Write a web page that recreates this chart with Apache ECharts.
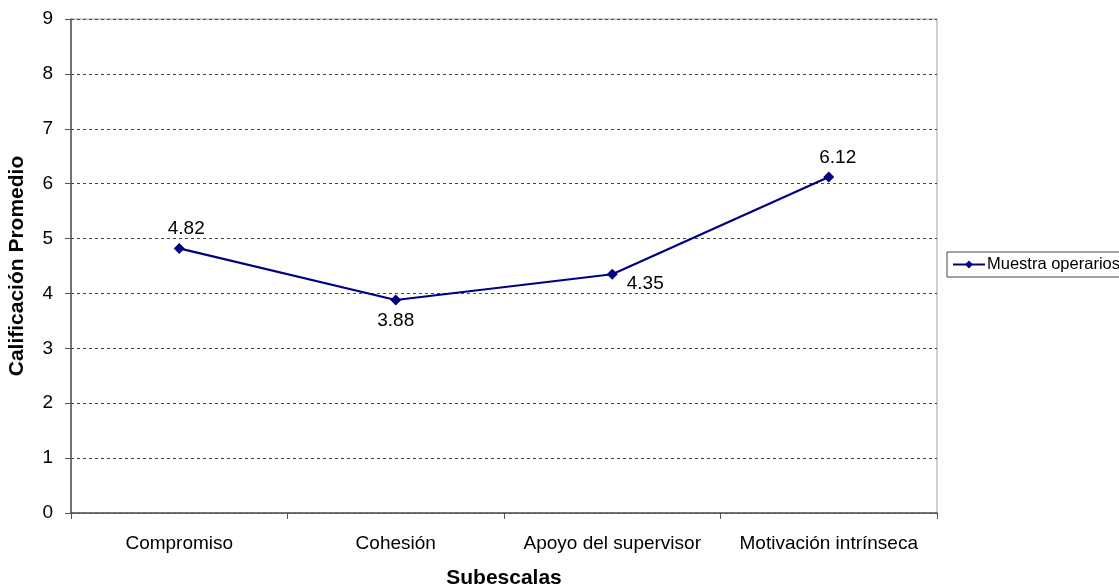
<!DOCTYPE html>
<html>
<head>
<meta charset="utf-8">
<script src="https://cdn.jsdelivr.net/npm/echarts@6/dist/echarts.min.js"></script>
<style>
  html, body { margin: 0; padding: 0; background: #fff; }
  #chart { width: 1119px; height: 587px; }
</style>
</head>
<body>
<div id="chart"></div>
<script>
// Subescalas y calificación promedio de la muestra de operarios
const categories = ['Compromiso', 'Cohesión', 'Apoyo del supervisor', 'Motivación intrínseca'];
const values = [4.82, 3.88, 4.35, 6.12];
const seriesName = 'Muestra operarios';
const yTicks = { min: 0, max: 9, interval: 1 };

// per-point label placement
const labelPlacement = [
  { position: 'top', offset: [7, 0] },
  { position: 'bottom', offset: [0, 1] },
  { position: 'right', offset: [4, 10] },
  { position: 'top', offset: [9, 1] }
];

const font = 'Liberation Sans, Arial, sans-serif';
const chart = echarts.init(document.getElementById('chart'), null, { renderer: 'canvas' });

chart.setOption({
  animation: false,
  backgroundColor: '#fff',
  textStyle: { fontFamily: font },
  grid: {
    left: 71, right: 182, top: 19, bottom: 74,
    containLabel: false,
    outerBoundsMode: 'none',
    show: true, borderColor: '#a0a0a0', borderWidth: 1
  },
  legend: {
    data: [seriesName],
    left: 947, top: 252,
    orient: 'vertical',
    borderColor: '#444', borderWidth: 1,
    padding: [4, 4, 4, 5],
    itemWidth: 32, itemHeight: 10, itemGap: 0,
    textStyle: { fontSize: 16.5, color: '#000', fontFamily: font, padding: [0, 0, 0, -3] }
  },
  xAxis: {
    type: 'category',
    data: categories,
    boundaryGap: true,
    name: 'Subescalas',
    nameLocation: 'middle',
    nameGap: 55,
    nameTextStyle: { fontWeight: 'bold', fontSize: 21, color: '#000' },
    axisLine: { lineStyle: { color: '#555', width: 1.5 } },
    axisTick: { show: true, length: 6, interval: 0, lineStyle: { color: '#555' }, alignWithLabel: false },
    axisLabel: { fontSize: 19, color: '#000', margin: 21, interval: 0, hideOverlap: false },
    splitLine: { show: false }
  },
  yAxis: {
    type: 'value',
    min: yTicks.min, max: yTicks.max, interval: yTicks.interval,
    name: 'Calificación Promedio',
    nameLocation: 'middle',
    nameGap: 43,
    nameTextStyle: { fontWeight: 'bold', fontSize: 21, color: '#000' },
    axisLine: { show: true, lineStyle: { color: '#555', width: 1.5 } },
    axisTick: { show: true, length: 6, lineStyle: { color: '#555' } },
    axisLabel: { fontSize: 19, color: '#000', margin: 18 },
    splitLine: { show: true, lineStyle: { color: '#444', type: [3, 3], width: 1 } }
  },
  series: [{
    name: seriesName,
    type: 'line',
    data: values.map((v, i) => ({
      value: v,
      label: {
        show: true,
        position: labelPlacement[i].position,
        offset: labelPlacement[i].offset,
        formatter: (p) => p.value.toFixed(2),
        fontSize: 19, color: '#000', distance: 5
      }
    })),
    symbol: 'diamond',
    symbolSize: 11,
    lineStyle: { color: '#000080', width: 2.2 },
    itemStyle: { color: '#000080' }
  }]
});
</script>
</body>
</html>
